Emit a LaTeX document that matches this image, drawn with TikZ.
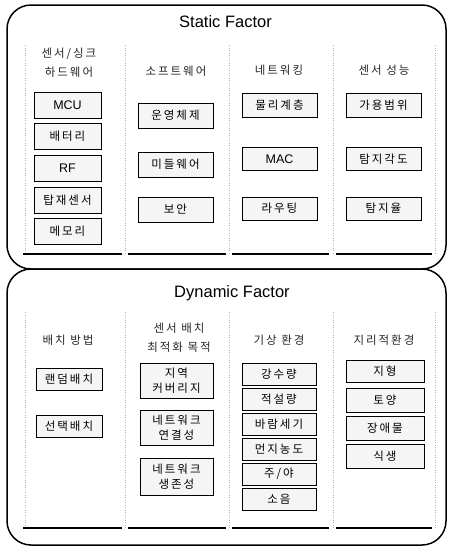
\documentclass[tikz,border=0pt]{standalone}
\usepackage{fontspec}
\setmainfont{Liberation Sans}
\newfontfamily\kr[LetterSpace=17]{Noto Sans CJK KR}
\begin{document}
\begin{tikzpicture}[x=1pt,y=-1pt,
  frame/.style={line width=1.5pt, rounded corners=24pt},
  title/.style={font=\fontsize{16.5}{18}\selectfont},
  head/.style={font=\kr\fontsize{11.5}{19.5}\selectfont, text=black!85, align=center, inner sep=0pt},
  item/.style={draw=black, line width=0.8pt, fill=gray!8, inner sep=0pt, align=center,
               font=\kr\fontsize{11.5}{14}\selectfont},
  twoline/.style={item, font=\kr\fontsize{11.5}{15.5}\selectfont},
  latitem/.style={item, font=\fontsize{12.5}{14}\selectfont},
  base/.style={line width=1.1pt},
  divider/.style={gray!60, line width=0.5pt, dotted}]
\useasboundingbox (0,0) rectangle (449,549);

% outer frames
\draw[frame] (7,5) rectangle (446,269);
\draw[frame] (7,269) rectangle (446,545);

% column dividers and base lines
\foreach \x in {25,125,229,333,435} {
  \draw[divider] (\x,45) -- (\x,254);
  \draw[divider] (\x,312) -- (\x,528);
}
\foreach \a/\b in {23/122,128/226,232/329,336/432} {
  \draw[base] (\a,254) -- (\b,254);
  \draw[base] (\a,528) -- (\b,528);
}

% ---------- Static Factor ----------
\node[title] (static) at (225.5,22) {Static Factor};
\node[head] (h1) at (69,62.5) {센서/싱크\\하드웨어};
\node[head] (h2) at (176,71) {소프트웨어};
\node[head] (h3) at (279,70) {네트워킹};
\node[head] (h4) at (384,70) {센서 성능};

\node[latitem, minimum width=67pt, minimum height=26pt] (mcu) at (67.5,105) {MCU};
\node[item, minimum width=67pt, minimum height=26pt] (bat) at (67.5,136.5) {배터리};
\node[latitem, minimum width=67pt, minimum height=26pt] (rf) at (67.5,168.5) {RF};
\node[item, minimum width=67pt, minimum height=26pt] (sen) at (67.5,200) {탑재센서};
\node[item, minimum width=67pt, minimum height=26pt] (mem) at (67.5,231.5) {메모리};

\node[item, minimum width=75pt, minimum height=25pt] (os) at (175.5,115.5) {운영체제};
\node[item, minimum width=75pt, minimum height=25pt] (mw) at (175.5,164.5) {미들웨어};
\node[item, minimum width=75pt, minimum height=25pt] (sec) at (175.5,209.5) {보안};

\node[item, minimum width=75pt, minimum height=24pt] (phy) at (279.5,105) {물리계층};
\node[latitem, minimum width=75pt, minimum height=23pt] (mac) at (279.5,159) {MAC};
\node[item, minimum width=75pt, minimum height=23pt] (rt) at (279.5,208.5) {라우팅};

\node[item, minimum width=75pt, minimum height=24pt] (rng) at (383.5,105) {가용범위};
\node[item, minimum width=75pt, minimum height=23pt] (ang) at (383.5,159) {탐지각도};
\node[item, minimum width=75pt, minimum height=23pt] (det) at (383.5,208.5) {탐지율};

% ---------- Dynamic Factor ----------
\node[title] (dynamic) at (232,293) {Dynamic Factor};
\node[head] (g1) at (68,340) {배치 방법};
\node[head] (g2) at (179,337.5) {센서 배치\\최적화 목적};
\node[head] (g3) at (279,340) {기상 환경};
\node[head] (g4) at (384,340) {지리적환경};

\node[item, minimum width=66pt, minimum height=22pt] (rand) at (69,379) {랜덤배치};
\node[item, minimum width=66pt, minimum height=22pt] (sel) at (69,426) {선택배치};

\node[twoline, minimum width=73pt, minimum height=35pt] (cov) at (176.5,380.5) {지역\\커버리지};
\node[twoline, minimum width=73pt, minimum height=35pt] (con) at (176.5,427.5) {네트워크\\연결성};
\node[twoline, minimum width=73pt, minimum height=37pt] (sur) at (176.5,476.5) {네트워크\\생존성};

\node[item, minimum width=74pt, minimum height=22pt] (rain) at (279,374) {강수량};
\node[item, minimum width=74pt, minimum height=22pt] (snow) at (279,399) {적설량};
\node[item, minimum width=74pt, minimum height=22pt] (wind) at (279,424.5) {바람세기};
\node[item, minimum width=74pt, minimum height=22pt] (dust) at (279,449) {먼지농도};
\node[item, minimum width=74pt, minimum height=22pt] (day) at (279,474) {주/야};
\node[item, minimum width=74pt, minimum height=22pt] (noise) at (279,499) {소음};

\node[item, minimum width=78pt, minimum height=22pt] (ter) at (385,371) {지형};
\node[item, minimum width=78pt, minimum height=24pt] (soil) at (385,400.5) {토양};
\node[item, minimum width=78pt, minimum height=24pt] (obs) at (385,428.5) {장애물};
\node[item, minimum width=78pt, minimum height=24pt] (veg) at (385,456.5) {식생};
\end{tikzpicture}
\end{document}
